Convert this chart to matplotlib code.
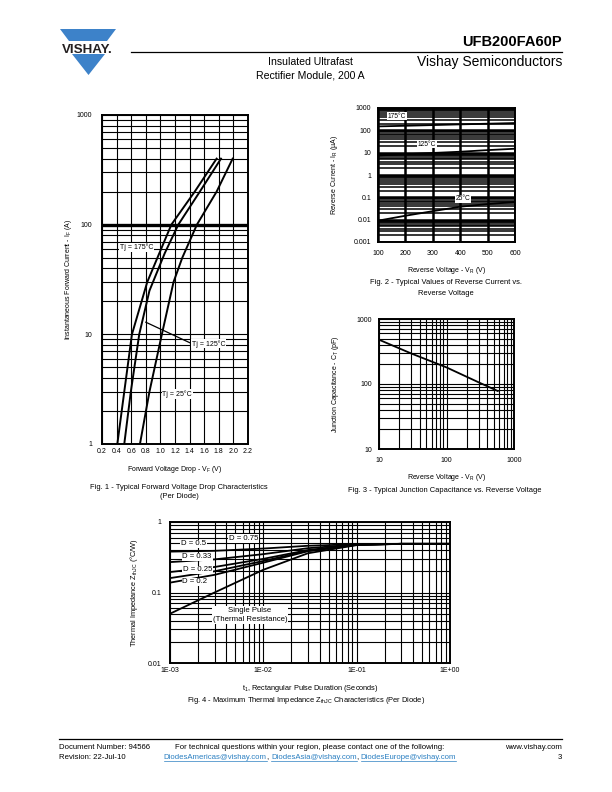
import numpy as np
import matplotlib
matplotlib.use('Agg')
import matplotlib.pyplot as plt
from matplotlib.ticker import LogLocator, NullFormatter
from matplotlib.patches import Polygon
from matplotlib.lines import Line2D

plt.rcParams['font.family'] = ['Liberation Sans', 'DejaVu Sans']
plt.rcParams['mathtext.default'] = 'regular'

# Fig. 1 - forward voltage drop (V) vs. instantaneous forward current (A)
vf_175 = [0.41, 0.505, 0.61, 0.82, 1.04, 1.15, 1.47, 1.77]
if_175 = [1, 3, 10, 30, 67, 100, 200, 400]
vf_125 = [0.505, 0.595, 0.71, 0.85, 1.06, 1.245, 1.54, 1.83]
if_125 = [1, 3, 10, 25, 55, 100, 200, 400]
vf_25 = [0.72, 0.85, 1.02, 1.18, 1.30, 1.50, 1.77, 1.99]
if_25 = [1, 3, 10, 30, 50, 100, 200, 400]
vf_ticks = [0.2, 0.4, 0.6, 0.8, 1.0, 1.2, 1.4, 1.6, 1.8, 2.0, 2.2]

# Fig. 2 - reverse current (uA) vs. reverse voltage (V)
vr = [100, 200, 300, 400, 500, 600]
ir_175 = [150, 160, 172, 185, 198, 212]
ir_125 = [7.5, 8.5, 9.7, 11, 13, 15]
ir_25 = [0.009, 0.015, 0.024, 0.038, 0.05, 0.062]

# Fig. 3 - junction capacitance (pF) vs. reverse voltage (V)
vr_c = [10, 30, 100, 300, 575]
ct = [480, 295, 180, 106, 78]

# Fig. 4 - thermal impedance (degC/W) vs. pulse duration (s)
t1 = [1e-3, 3e-3, 1e-2, 3e-2, 1e-1, 3e-1, 1]
z_single = [0.05, 0.10, 0.21, 0.36, 0.47, 0.49, 0.49]
z_d = {
    '0.75': [0.38, 0.39, 0.42, 0.46, 0.485, 0.49, 0.49],
    '0.5': [0.27, 0.295, 0.35, 0.425, 0.48, 0.49, 0.49],
    '0.33': [0.195, 0.23, 0.30, 0.40, 0.477, 0.49, 0.49],
    '0.25': [0.16, 0.20, 0.28, 0.39, 0.475, 0.49, 0.49],
    '0.2': [0.138, 0.178, 0.265, 0.385, 0.474, 0.49, 0.49],
}

W, H = 612, 792
fig = plt.figure(figsize=(W / 100, H / 100), dpi=100)


def fx(x):
    return x / W


def fy(y):
    return 1 - y / H


def put_axes(l, t, r, b):
    return fig.add_axes([fx(l), fy(b), (r - l) / W, (b - t) / H])


def style(ax, xpad, ypad):
    ax.tick_params(which='both', length=0, labelsize=5)
    ax.tick_params(axis='x', pad=xpad)
    ax.tick_params(axis='y', pad=ypad)
    for s in ax.spines.values():
        s.set_linewidth(1.4)
    ax.set_axisbelow(True)


def log_minor(axis):
    axis.set_minor_locator(LogLocator(base=10, subs=np.arange(2, 10)))
    axis.set_minor_formatter(NullFormatter())


box = dict(facecolor='white', edgecolor='none', pad=0.6)

# ---------------- Fig. 1
ax1 = put_axes(102, 115, 248, 444)
ax1.set_yscale('log')
ax1.set_xlim(0.2, 2.2)
ax1.set_ylim(1, 1000)
ax1.set_xticks(vf_ticks)
ax1.set_xticklabels(['%.1f' % v for v in vf_ticks])
ax1.set_yticks([1, 10, 100, 1000])
ax1.set_yticklabels(['1', '10', '100', '1000'])
log_minor(ax1.yaxis)
ax1.grid(True, which='both', color='k', lw=0.8)
ax1.axhline(100, color='k', lw=2.4, zorder=1)
style(ax1, 3.2, 7)
ax1.plot(vf_175, if_175, color='k', lw=1.4)
ax1.plot(vf_125, if_125, color='k', lw=1.4)
ax1.plot(vf_25, if_25, color='k', lw=1.4)
ax1.text(0.67, 62, 'Tj = 175°C', fontsize=5, ha='center', va='center', bbox=box)
ax1.text(1.66, 8.2, 'Tj = 125°C', fontsize=5, ha='center', va='center', bbox=box)
ax1.plot([0.80, 1.40], [12.9, 8.4], color='k', lw=0.9)
ax1.text(1.23, 2.86, 'Tj = 25°C', fontsize=5, ha='center', va='center', bbox=box)
ax1.set_ylabel('Instantaneous Forward Current - I$_F$ (A)', fontsize=5)
ax1.yaxis.set_label_coords(-0.195, 0.5)
ax1.set_xlabel('Forward Voltage Drop - V$_F$ (V)', fontsize=5)
ax1.xaxis.set_label_coords(0.5, -0.061)

# ---------------- Fig. 2
ax2 = put_axes(378, 108, 515, 242)
ax2.set_yscale('log')
ax2.set_xlim(100, 600)
ax2.set_ylim(0.001, 1000)
ax2.set_xticks(vr)
ax2.set_xticklabels([str(v) for v in vr])
ax2.set_yticks([0.001, 0.01, 0.1, 1, 10, 100, 1000])
ax2.set_yticklabels(['0.001', '0.01', '0.1', '1', '10', '100', '1000'])
log_minor(ax2.yaxis)
ax2.grid(True, which='major', color='k', lw=1.8)
ax2.grid(True, which='minor', axis='y', color='k', lw=1.1)
style(ax2, 6, 5)
for ir in (ir_175, ir_125, ir_25):
    ax2.plot(vr, ir, color='k', lw=1.3)
ax2.text(169, 430, '175°C', fontsize=4.8, ha='center', va='center', bbox=box)
ax2.text(279, 24, '125°C', fontsize=4.8, ha='center', va='center', bbox=box)
ax2.text(410, 0.085, '25°C', fontsize=4.8, ha='center', va='center', bbox=box)
ax2.set_ylabel('Reverse Current - I$_R$ (µA)', fontsize=5)
ax2.yaxis.set_label_coords(-0.277, 0.5)
ax2.set_xlabel('Reverse Voltage - V$_R$ (V)', fontsize=5)
ax2.xaxis.set_label_coords(0.5, -0.172)

# ---------------- Fig. 3
ax3 = put_axes(379, 319, 514, 449)
ax3.set_xscale('log')
ax3.set_yscale('log')
ax3.set_xlim(10, 1000)
ax3.set_ylim(10, 1000)
ax3.set_xticks([10, 100, 1000])
ax3.set_xticklabels(['10', '100', '1000'])
ax3.set_yticks([10, 100, 1000])
ax3.set_yticklabels(['10', '100', '1000'])
log_minor(ax3.xaxis)
log_minor(ax3.yaxis)
ax3.grid(True, which='both', color='k', lw=0.8)
style(ax3, 5.4, 5)
ax3.plot(vr_c, ct, color='k', lw=1.3)
ax3.set_ylabel('Junction Capacitance - C$_T$ (pF)', fontsize=5)
ax3.yaxis.set_label_coords(-0.28, 0.5)
ax3.set_xlabel('Reverse Voltage - V$_R$ (V)', fontsize=5)
ax3.xaxis.set_label_coords(0.5, -0.175)

# ---------------- Fig. 4
ax4 = put_axes(170, 522, 450, 663)
ax4.set_xscale('log')
ax4.set_yscale('log')
ax4.set_xlim(1e-3, 1)
ax4.set_ylim(0.01, 1)
ax4.set_xticks([1e-3, 1e-2, 1e-1, 1])
ax4.set_xticklabels(['1E-03', '1E-02', '1E-01', '1E+00'])
ax4.set_yticks([0.01, 0.1, 1])
ax4.set_yticklabels(['0.01', '0.1', '1'])
log_minor(ax4.xaxis)
log_minor(ax4.yaxis)
ax4.grid(True, which='both', color='k', lw=0.8)
style(ax4, 3, 6)
ax4.plot(t1, z_single, color='k', lw=1.3)
for d, z in z_d.items():
    ax4.plot(t1, z, color='k', lw=1.3)
ax4.text(6.2e-3, 0.59, 'D = 0.75', fontsize=5.6, ha='center', va='center', bbox=box)
ax4.text(1.8e-3, 0.488, 'D = 0.5', fontsize=5.6, ha='center', va='center', bbox=box)
ax4.text(1.95e-3, 0.319, 'D = 0.33', fontsize=5.6, ha='center', va='center', bbox=box)
ax4.text(1.97e-3, 0.209, 'D = 0.25', fontsize=5.6, ha='center', va='center', bbox=box)
ax4.text(1.85e-3, 0.141, 'D = 0.2', fontsize=5.6, ha='center', va='center', bbox=box)
ax4.text(7.2e-3, 0.048, 'Single Pulse\n(Thermal Resistance)', fontsize=5.6,
         ha='center', va='center', linespacing=1.5, bbox=box)
ax4.set_ylabel('Thermal Impedance Z$_{thJC}$ (°C/W)', fontsize=5.3)
ax4.yaxis.set_label_coords(-0.107, 0.5)
ax4.set_xlabel('t$_1$, Rectangular Pulse Duration (Seconds)', fontsize=5.3)
ax4.xaxis.set_label_coords(0.5, -0.145)

# ---------------- captions
cap = dict(fontsize=5.4, ha='center', va='center')
fig.text(fx(179), fy(487), 'Fig. 1 - Typical Forward Voltage Drop Characteristics', **cap)
fig.text(fx(179), fy(496), '(Per Diode)', **cap)
fig.text(fx(446), fy(283), 'Fig. 2 - Typical Values of Reverse Current vs.', **cap)
fig.text(fx(446), fy(293), 'Reverse Voltage', **cap)
fig.text(fx(445), fy(491), 'Fig. 3 - Typical Junction Capacitance vs. Reverse Voltage', **cap)
fig.text(fx(306), fy(701), 'Fig. 4 - Maximum Thermal Impedance Z$_{thJC}$ Characteristics (Per Diode)', **cap)

# ---------------- header
blue = '#3d82c9'
top_tri = [(60, 29), (116, 29), (107, 41), (69, 41)]
low_tri = [(72, 54), (105, 54), (88.5, 75)]
for poly in (top_tri, low_tri):
    fig.patches.append(Polygon([(fx(x), fy(y)) for x, y in poly], closed=True,
                               facecolor=blue, edgecolor='none',
                               transform=fig.transFigure))
fig.text(fx(87.5), fy(53), 'VISHAY.', fontsize=9.6, fontweight='bold',
         ha='center', va='baseline', color='#231f20')
fig.lines.append(Line2D([fx(131), fx(562)], [fy(52.3), fy(52.3)], color='k', lw=0.9,
                        transform=fig.transFigure))
fig.text(fx(562), fy(42), 'UFB200FA60P', fontsize=10.5, fontweight='bold',
         ha='right', va='center')
fig.text(fx(562), fy(62), 'Vishay Semiconductors', fontsize=10, ha='right', va='center')
fig.text(fx(310), fy(62), 'Insulated Ultrafast', fontsize=7.6, ha='center', va='center')
fig.text(fx(310), fy(75), 'Rectifier Module, 200 A', fontsize=7.6, ha='center', va='center')

# ---------------- footer
fig.lines.append(Line2D([fx(59), fx(562)], [fy(739), fy(739)], color='k', lw=0.9,
                        transform=fig.transFigure))
foot = dict(fontsize=5.6, va='center')
fig.text(fx(59), fy(747.5), 'Document Number: 94566', ha='left', **foot)
fig.text(fx(59), fy(757.5), 'Revision: 22-Jul-10', ha='left', **foot)
fig.text(fx(310), fy(747.5),
         'For technical questions within your region, please contact one of the following:',
         ha='center', **foot)
fig.text(fx(562), fy(747.5), 'www.vishay.com', ha='right', **foot)
fig.text(fx(562), fy(757.5), '3', ha='right', **foot)

link_blue = '#2a7fc1'
pieces = [('DiodesAmericas@vishay.com', link_blue), (', ', 'k'),
          ('DiodesAsia@vishay.com', link_blue), (', ', 'k'),
          ('DiodesEurope@vishay.com', link_blue)]
fig.canvas.draw()
renderer = fig.canvas.get_renderer()
widths = []
for s, c in pieces:
    t = fig.text(0, 0, s, fontsize=5.6)
    widths.append(t.get_window_extent(renderer).width)
    t.remove()
x = 310 - sum(widths) / 2
for (s, c), w in zip(pieces, widths):
    fig.text(fx(x), fy(757.5), s, color=c, ha='left', **foot)
    if c != 'k':
        fig.lines.append(Line2D([fx(x), fx(x + w)], [fy(761), fy(761)], color=c,
                                lw=0.5, transform=fig.transFigure))
    x += w

fig.savefig('out.png', dpi=100)
